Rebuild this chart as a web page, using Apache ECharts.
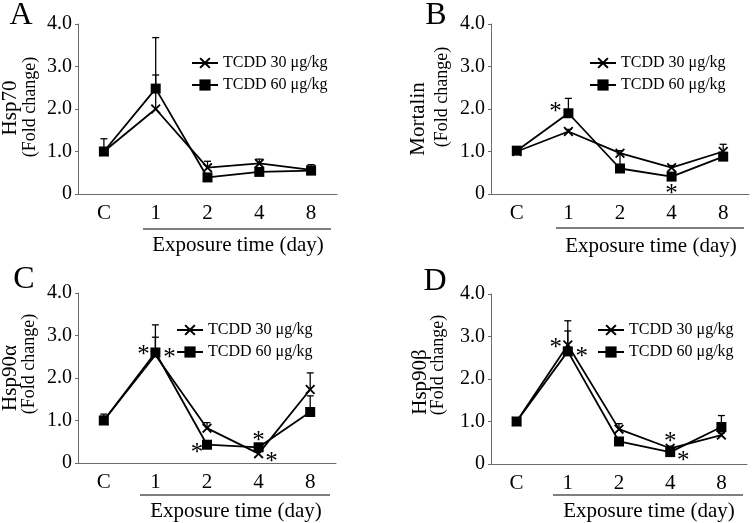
<!DOCTYPE html>
<html>
<head>
<meta charset="utf-8">
<script src="https://cdn.jsdelivr.net/npm/echarts@6/dist/echarts.min.js"></script>
<style>
html,body{margin:0;padding:0;background:#fff;}
#chart{width:752px;height:523px;}
</style>
</head>
<body>
<div id="chart"></div>
<script>
// ---- data ----
const categories = ['C', '1', '2', '4', '8'];
const yTicks = [0, 1, 2, 3, 4];
const seriesNames = ['TCDD 30 μg/kg', 'TCDD 60 μg/kg'];
const panelLetters = ['A', 'B', 'C', 'D'];
const proteinNames = ['Hsp70', 'Mortalin', 'Hsp90α', 'Hsp90β'];
const xTitle = 'Exposure time (day)';
const yUnit = '(Fold change)';

// Panel A: Hsp70
const hsp70_30 = [1.0, 2.0, 0.62, 0.72, 0.57];
const hsp70_60 = [1.0, 2.48, 0.39, 0.52, 0.55];
const hsp70_err30 = [0.3, 0.8, 0.15, 0.1, 0.12];
const hsp70_err60 = [0.05, 1.2, 0.05, 0.05, 0.1];
const hsp70_sig = [];

// Panel B: Mortalin
const mort_30 = [1.0, 1.47, 0.96, 0.62, 1.0];
const mort_60 = [1.02, 1.9, 0.6, 0.41, 0.88];
const mort_err30 = [0.05, 0.05, 0.06, 0.05, 0.17];
const mort_err60 = [0.05, 0.35, 0.35, 0.05, 0.05];
const mort_sig = [[1, 1.9, 'ul'], [3, 0.41, 'b']];

// Panel C: Hsp90α
const a90_30 = [1.0, 2.54, 0.82, 0.22, 1.73];
const a90_60 = [1.0, 2.6, 0.43, 0.37, 1.2];
const a90_err30 = [0.15, 0.42, 0.13, 0.05, 0.39];
const a90_err60 = [0.1, 0.65, 0.05, 0.05, 0.38];
const a90_sig = [[1, 2.6, 'l'], [1, 2.6, 'r'], [2, 0.43, 'lb'], [3, 0.37, 'a'], [3, 0.22, 'rb']];

// Panel D: Hsp90β
const b90_30 = [1.0, 2.8, 0.82, 0.37, 0.68];
const b90_60 = [1.0, 2.65, 0.53, 0.28, 0.87];
const b90_err30 = [0.07, 0.57, 0.13, 0.05, 0.05];
const b90_err60 = [0.05, 0.48, 0.05, 0.05, 0.27];
const b90_sig = [[1, 2.8, 'l'], [1, 2.65, 'r'], [3, 0.37, 'a'], [3, 0.28, 'rb']];

const panels = [
  {s30: hsp70_30, s60: hsp70_60, e30: hsp70_err30, e60: hsp70_err60, sig: hsp70_sig},
  {s30: mort_30, s60: mort_60, e30: mort_err30, e60: mort_err60, sig: mort_sig},
  {s30: a90_30, s60: a90_60, e30: a90_err30, e60: a90_err60, sig: a90_sig},
  {s30: b90_30, s60: b90_60, e30: b90_err30, e60: b90_err60, sig: b90_sig}
];

// ---- layout ----
const FONT = '"Liberation Serif", "Times New Roman", serif';
const AXIS_COLOR = '#6b6b6b';
const grids = [
  {left: 78, top: 24, width: 259, height: 170},
  {left: 491, top: 24, width: 258, height: 170},
  {left: 78, top: 293, width: 258, height: 170},
  {left: 491, top: 294, width: 256, height: 170}
];
const legendPos = [
  {left: 186, top: 50},
  {left: 584, top: 50},
  {left: 171, top: 317},
  {left: 592, top: 317}
];
const letterPos = [[21, 16], [436, 16], [24, 280], [435, 282]];
const protPos = [[10, 108], [418, 119], [10, 378], [420, 382]];
const unitPos = [[30, 107], [442, 97], [29, 364], [438, 365]];
const underline = [[143, 331, 229], [556, 744, 228], [140, 330, 495], [553, 743, 495]];
const xTitlePos = [[238, 245], [651, 246], [236, 511], [649, 511]];
const sigOffset = {ul: [-13, -7], l: [-12, -3], r: [14, 0], a: [0, -12], b: [0, 12], rb: [13, 3], lb: [-10, 3]};

const crossPath = 'path://M0,1.3L1.3,0L5,3.7L8.7,0L10,1.3L6.3,5L10,8.7L8.7,10L5,6.3L1.3,10L0,8.7L3.7,5Z';
const markers = [crossPath, 'rect'];
const markerSizes = [10, 10];

const option = {
  animation: false,
  backgroundColor: '#fff',
  grid: grids,
  xAxis: grids.map((g, i) => ({
    type: 'category', gridIndex: i, data: categories,
    axisLine: {lineStyle: {color: AXIS_COLOR, width: 1}},
    axisTick: {show: false},
    axisLabel: {color: '#000', fontFamily: FONT, fontSize: 21, margin: 9}
  })),
  yAxis: grids.map((g, i) => ({
    type: 'value', gridIndex: i, min: 0, max: 4, interval: 1,
    axisLine: {show: true, lineStyle: {color: AXIS_COLOR, width: 1}},
    axisTick: {show: true, length: 3, lineStyle: {color: AXIS_COLOR}},
    splitLine: {show: false},
    axisLabel: {color: '#000', fontFamily: FONT, fontSize: 20, margin: 6,
      formatter: v => (yTicks.indexOf(v) >= 0 ? (v === 0 ? '0' : v.toFixed(1)) : '')}
  })),
  legend: legendPos.map((p, i) => ({
    left: p.left, top: p.top, orient: 'vertical', itemGap: 6,
    itemWidth: 26, itemHeight: 14,
    data: seriesNames.map(n => ({name: n})),
    textStyle: {fontFamily: FONT, fontSize: 16, color: '#000'},
    selectedMode: false
  })),
  series: [],
  graphic: []
};

panels.forEach((p, i) => {
  [p.s30, p.s60].forEach((vals, k) => {
    option.series.push({
      name: seriesNames[k], type: 'line', xAxisIndex: i, yAxisIndex: i,
      data: vals, symbol: markers[k], symbolSize: markerSizes[k],
      showSymbol: true, z: 3,
      lineStyle: {color: '#000', width: 1.8},
      itemStyle: {color: '#000'}
    });
  });
  // error bars (upper only)
  const errData = [];
  [[p.s30, p.e30], [p.s60, p.e60]].forEach(([vals, errs]) => {
    vals.forEach((v, j) => { if (errs[j] != null) errData.push([j, v, v + errs[j]]); });
  });
  option.series.push({
    type: 'custom', xAxisIndex: i, yAxisIndex: i, data: errData, z: 2,
    renderItem: (params, api) => {
      const a = api.coord([api.value(0), api.value(1)]);
      const b = api.coord([api.value(0), api.value(2)]);
      const st = {stroke: '#000', lineWidth: 1.3};
      return {type: 'group', children: [
        {type: 'line', shape: {x1: a[0], y1: a[1], x2: b[0], y2: b[1]}, style: st},
        {type: 'line', shape: {x1: b[0] - 3.5, y1: b[1], x2: b[0] + 3.5, y2: b[1]}, style: st}
      ]};
    }
  });
  // significance asterisks
  if (p.sig.length) {
    option.series.push({
      type: 'custom', xAxisIndex: i, yAxisIndex: i, z: 4,
      data: p.sig.map(s => [s[0], s[1], Object.keys(sigOffset).indexOf(s[2])]),
      renderItem: (params, api) => {
        const c = api.coord([api.value(0), api.value(1)]);
        const off = sigOffset[Object.keys(sigOffset)[api.value(2)]];
        return {type: 'text', style: {text: '*', x: c[0] + off[0], y: c[1] + off[1] + 6,
          font: '25px ' + FONT, fill: '#000', textAlign: 'center', textVerticalAlign: 'middle'}};
      }
    });
  }
  // annotations
  option.graphic.push(
    {type: 'text', x: letterPos[i][0], y: letterPos[i][1],
      style: {text: panelLetters[i], font: '32px ' + FONT, fill: '#000', textAlign: 'center', textVerticalAlign: 'middle'}},
    {type: 'text', x: protPos[i][0], y: protPos[i][1], rotation: Math.PI / 2,
      style: {text: proteinNames[i], font: '21px ' + FONT, fill: '#000', textAlign: 'center', textVerticalAlign: 'middle'}},
    {type: 'text', x: unitPos[i][0], y: unitPos[i][1], rotation: Math.PI / 2,
      style: {text: yUnit, font: '18px ' + FONT, fill: '#000', textAlign: 'center', textVerticalAlign: 'middle'}},
    {type: 'line', shape: {x1: underline[i][0], y1: underline[i][2], x2: underline[i][1], y2: underline[i][2]},
      style: {stroke: '#555', lineWidth: 1.5}},
    {type: 'text', x: xTitlePos[i][0], y: xTitlePos[i][1],
      style: {text: xTitle, font: '21px ' + FONT, fill: '#000', textAlign: 'center', textVerticalAlign: 'middle'}}
  );
});

const chart = echarts.init(document.getElementById('chart'), null, {renderer: 'canvas'});
chart.setOption(option);
</script>
</body>
</html>
